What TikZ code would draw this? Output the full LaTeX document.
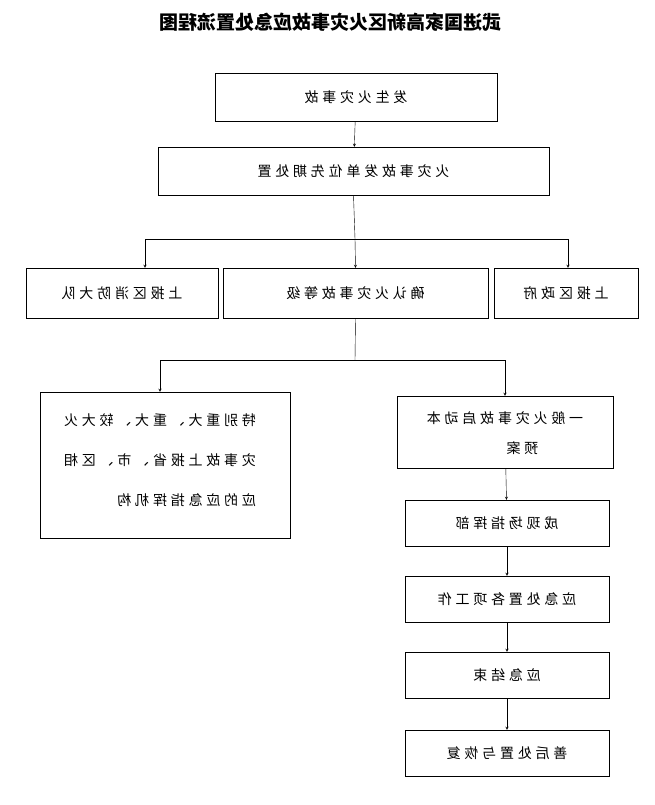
\documentclass[tikz,border=0pt]{standalone}
\usepackage{fontspec}
\usepackage{graphicx}
\newfontfamily\cjk{Noto Sans CJK SC}
\newfontfamily\cjkw[LetterSpace=27]{Noto Sans CJK SC}
\usetikzlibrary{positioning}
\newcommand{\mir}[1]{\reflectbox{#1}}
\begin{document}
\begin{tikzpicture}[x=1pt,y=-1pt,
  box/.style={draw,thin,shape=rectangle,inner sep=2pt,font=\cjkw\fontsize{14}{30}\selectfont},
  arr/.style={->,>=stealth,thin}]
\useasboundingbox (0,0) rectangle (655,805);
\node[font=\cjk\bfseries\fontsize{19}{22}\selectfont](T) at (330,22){\mir{武进国家高新区火灾事故应急处置流程图}};
% top chain
\node[box,minimum width=282pt,minimum height=48pt](B1) at (356,97){\mir{发生火灾事故}};
\node[box,minimum width=391pt,minimum height=48pt](B2) at (353.5,171){\mir{火灾事故发单位先期处置}};
\draw[arr] (B1) -- (B2);
% second level
\node[box,minimum width=192pt,minimum height=50pt](XF) at (122,293){\mir{上报区消防大队}};
\node[box,minimum width=265pt,minimum height=50pt](DJ) at (355.5,293){\mir{确认火灾事故等级}};
\node[box,minimum width=144pt,minimum height=50pt](ZF) at (566,293){\mir{上报区政府}};
\coordinate (J1) at (355,239);
\draw (B2.south) -- (J1);
\draw[arr] (J1) -| (XF.north -| 145,0);
\draw[arr] (J1) -- (DJ.north);
\draw[arr] (J1) -| (ZF.north -| 568,0);
% third level
\node[box,minimum width=250pt,minimum height=146pt](ZD) at (165,465){};
\node[font=\cjkw\fontsize{14}{40}\selectfont,anchor=north](ZDT) at (160,394){\mir{\begin{tabular}{@{}l@{}}特别重大、重大、较大火\\灾事故上报省、市、区相\\应的应急指挥机构\end{tabular}}};
\node[box,minimum width=216pt,minimum height=72pt](YB) at (505,432){\mir{\begin{tabular}{@{}l@{}}一般火灾事故启动本\\\hspace{3.2em}预案\end{tabular}}};
\coordinate (J2) at (355,360);
\draw (DJ.south) -- (J2);
\draw[arr] (J2) -| (ZD.north -| 160,0);
\draw[arr] (J2) -| (YB.north);
% right chain
\node[box,minimum width=204pt,minimum height=46pt](C1) at (507,523){\mir{成现场指挥部}};
\node[box,minimum width=204pt,minimum height=46pt](C2) at (507,599){\mir{应急处置各项工作}};
\node[box,minimum width=204pt,minimum height=46pt](C3) at (507,675){\mir{应急结束}};
\node[box,minimum width=204pt,minimum height=46pt](C4) at (507,753){\mir{善后处置与恢复}};
\draw[arr] (YB) -- (C1);
\draw[arr] (C1) -- (C2);
\draw[arr] (C2) -- (C3);
\draw[arr] (C3) -- (C4);
\end{tikzpicture}
\end{document}
